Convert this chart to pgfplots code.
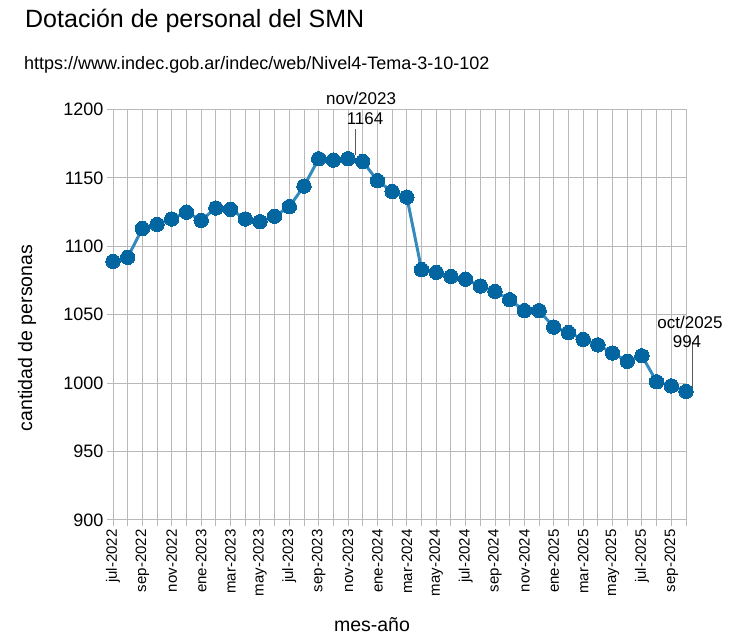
\documentclass[border=0pt]{standalone}
\usepackage{fontspec}
\setmainfont{Liberation Sans}
\usepackage{pgfplots}
\pgfplotsset{compat=1.18}
\definecolor{gridc}{RGB}{185,185,185}
\definecolor{linec}{RGB}{52,138,191}
\definecolor{markc}{RGB}{4,102,161}
\definecolor{leadc}{RGB}{90,90,90}
\begin{document}
\begin{tikzpicture}[x=1bp,y=1bp]
\useasboundingbox (0,0) rectangle (738,639);
\node[anchor=base west, inner sep=0, font=\fontsize{25bp}{30bp}\selectfont] at (25,611) {Dotación de personal del SMN};
\node[anchor=base west, inner sep=0, font=\fontsize{18bp}{22bp}\selectfont] at (24,569) {https://www.indec.gob.ar/indec/web/Nivel4-Tema-3-10-102};
\node[rotate=90, anchor=center, inner sep=0, font=\fontsize{19.5bp}{23bp}\selectfont] at (27,301) {cantidad de personas};
\node[anchor=base, inner sep=0, font=\fontsize{19.5bp}{23bp}\selectfont] at (372,7) {mes-año};
\begin{axis}[
  at={(113bp,119bp)}, anchor=south west,
  scale only axis, width=573bp, height=410.5bp,
  xmin=0, xmax=39, ymin=900, ymax=1200,
  clip=false,
  xtick={0,...,39},
  xticklabels={jul-2022,,sep-2022,,nov-2022,,ene-2023,,mar-2023,,may-2023,,jul-2023,,sep-2023,,nov-2023,,ene-2024,,mar-2024,,may-2024,,jul-2024,,sep-2024,,nov-2024,,ene-2025,,mar-2025,,may-2025,,jul-2025,,sep-2025,},
  ytick={900,950,...,1200},
  xtick pos=bottom, ytick pos=left,
  grid=major,
  grid style={gridc, line width=1bp},
  axis line style={gridc, line width=1bp},
  tick style={gridc, line width=1bp},
  tick align=outside,
  major tick length=6bp,
  /pgf/number format/assume math mode=true,
  /pgf/number format/1000 sep={},
  yticklabel style={font=\fontsize{18bp}{21bp}\selectfont, text=black},
  xticklabel style={font=\fontsize{15bp}{18bp}\selectfont, rotate=90, anchor=east, text=black},
]
\addplot[linec, line width=3bp, mark=*, mark size=7.2bp, mark options={fill=markc, draw=markc, line width=0pt}] coordinates {
(0,1089) (1,1092) (2,1113) (3,1116) (4,1120) (5,1125) (6,1119) (7,1128) (8,1127) (9,1120)
(10,1118) (11,1122) (12,1129) (13,1144) (14,1164) (15,1163) (16,1164) (17,1162) (18,1148) (19,1140)
(20,1136) (21,1083) (22,1081) (23,1078) (24,1076) (25,1071) (26,1067) (27,1061) (28,1053) (29,1053)
(30,1041) (31,1037) (32,1032) (33,1028) (34,1022) (35,1016) (36,1020) (37,1001) (38,998) (39,994)
};
\draw[leadc, line width=1bp] ([xshift=7bp,yshift=4bp]axis cs:16,1164) -- ([xshift=7bp,yshift=30bp]axis cs:16,1164);
\node[anchor=base, inner sep=0, font=\fontsize{17bp}{20bp}\selectfont] at ([xshift=17bp,yshift=34.5bp]axis cs:16,1164) {1164};
\node[anchor=base, inner sep=0, font=\fontsize{17bp}{20bp}\selectfont] at ([xshift=13bp,yshift=54.5bp]axis cs:16,1164) {nov/2023};
\draw[leadc, line width=1bp] ([xshift=6.7bp,yshift=1bp]axis cs:39,994) -- ([xshift=6.7bp,yshift=49bp]axis cs:39,994);
\node[anchor=base, inner sep=0, font=\fontsize{17bp}{20bp}\selectfont] at ([xshift=1bp,yshift=44bp]axis cs:39,994) {994};
\node[anchor=base, inner sep=0, font=\fontsize{17bp}{20bp}\selectfont] at ([xshift=4bp,yshift=63bp]axis cs:39,994) {oct/2025};
\end{axis}
\end{tikzpicture}
\end{document}
